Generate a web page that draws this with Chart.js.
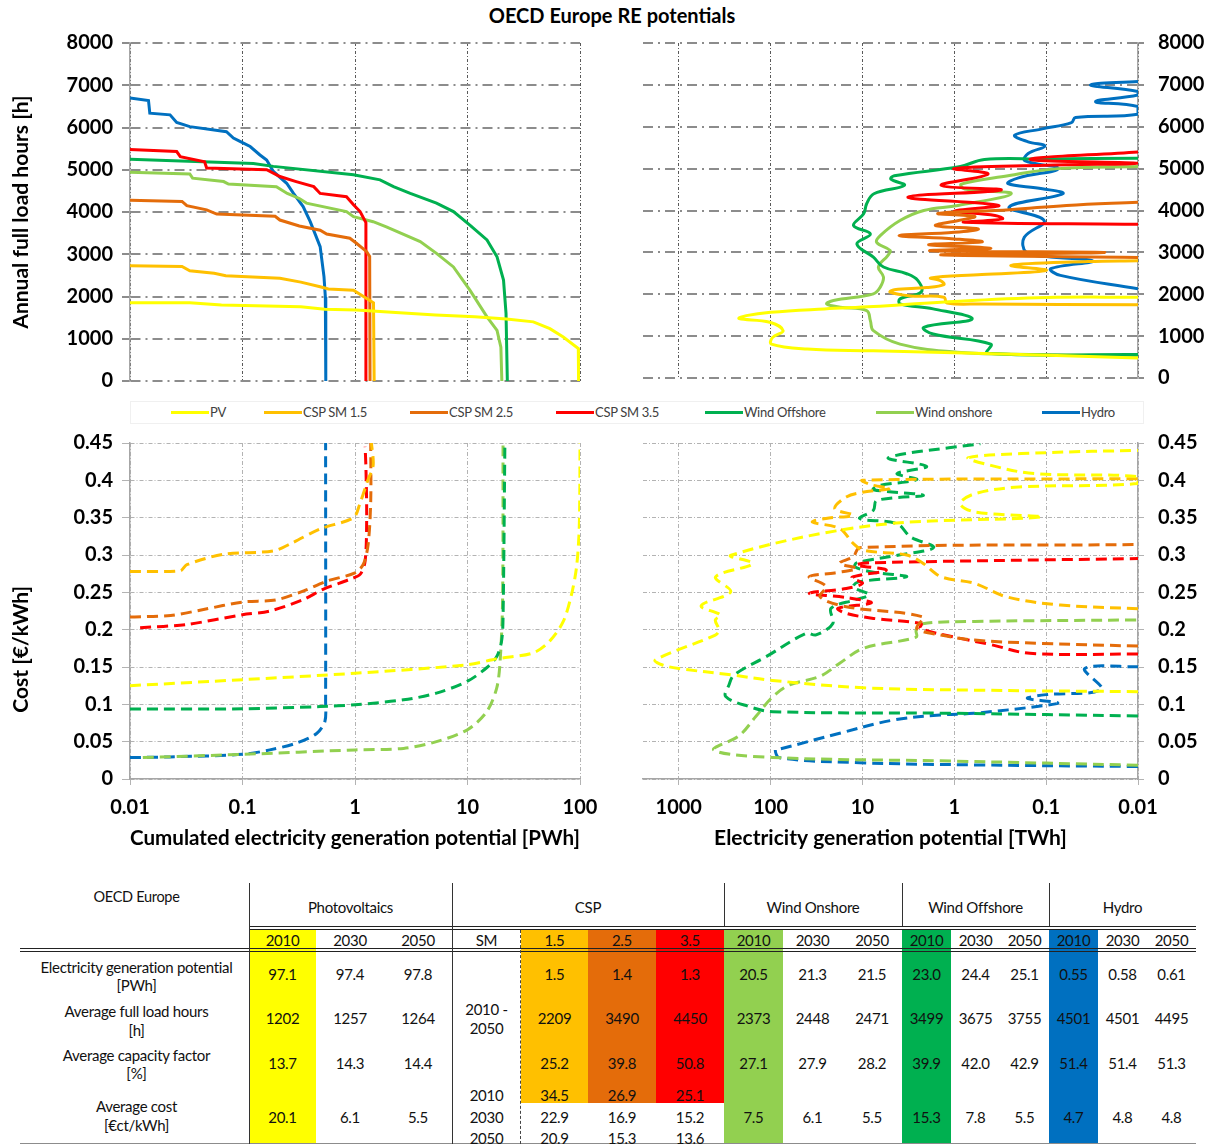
<!DOCTYPE html>
<html>
<head>
<meta charset="utf-8">
<title>OECD Europe RE potentials</title>
<script src="https://cdn.jsdelivr.net/npm/chart.js@4.4.1/dist/chart.umd.min.js"></script>
<style>
  body { margin: 0; background: #fff; font-family: Lato, "DejaVu Sans", sans-serif; }
  #page { position: relative; width: 1207px; height: 1144px; overflow: hidden; }
  canvas { position: absolute; }
  #title { position: absolute; left: 0; top: 3px; width: 1224px; text-align: center; font-weight: bold; font-size: 20px; }
  #legend { position: absolute; left: 130px; top: 401px; width: 1012px; height: 21px; border: 1px solid #f0f0f0; }
  .lg-line { position: absolute; height: 3px; top: 9px; }
  .lg-text { position: absolute; top: 2px; font-size: 13px; color: #404040; letter-spacing: -0.3px; white-space: nowrap; }
  .cell { position: absolute; text-align: center; font-size: 15px; line-height: 18px; height: 18px; white-space: nowrap; letter-spacing: -0.3px; color: #111; }
  .box { position: absolute; }
</style>
</head>
<body>
<div id="page">
  <div id="title">OECD Europe RE potentials</div>
  <canvas id="tl" width="600" height="400" style="left:0;top:0"></canvas>
  <canvas id="tr" width="587" height="400" style="left:620px;top:0"></canvas>
  <div id="legend"></div>
  <canvas id="bl" width="600" height="440" style="left:0;top:420px"></canvas>
  <canvas id="br" width="587" height="440" style="left:620px;top:420px"></canvas>
  <div id="table"></div>
</div>
<script>
// series shared by all four panels
const seriesNames = ['PV', 'CSP SM 1.5', 'CSP SM 2.5', 'CSP SM 3.5', 'Wind Offshore', 'Wind onshore', 'Hydro'];
const seriesColors = ['#ffff00', '#ffc000', '#e46c0a', '#ff0000', '#00b050', '#92d050', '#0070c0'];

// axis ticks
const hourTicks = [0, 1000, 2000, 3000, 4000, 5000, 6000, 7000, 8000];
const costTicks = [0, 0.05, 0.1, 0.15, 0.2, 0.25, 0.3, 0.35, 0.4, 0.45];
const cumulatedTicks = [0.01, 0.1, 1, 10, 100];
const potentialTicks = [0.01, 0.1, 1, 10, 100, 1000];

// full load hours [h] over cumulated potential [PWh]
const pvCumHours = [[0.01, 1850], [0.034, 1850], [0.065, 1800], [0.33, 1760], [0.54, 1700], [1.03, 1680], [2.3, 1620], [5.2, 1560], [11.6, 1520], [22.2, 1470], [38.5, 1400], [54, 1240], [71, 1040], [96.6, 770], [97.1, 700], [97.1, 0]];
const csp15CumHours = [[0.01, 2730], [0.029, 2710], [0.034, 2610], [0.056, 2550], [0.071, 2490], [0.215, 2430], [0.33, 2340], [0.49, 2230], [0.58, 2180], [0.97, 2150], [1.27, 1950], [1.46, 1850], [1.48, 0]];
const csp25CumHours = [[0.01, 4280], [0.029, 4250], [0.032, 4150], [0.048, 4050], [0.059, 3950], [0.195, 3900], [0.215, 3810], [0.32, 3670], [0.49, 3570], [0.56, 3480], [0.9, 3380], [1.03, 3260], [1.27, 3060], [1.35, 2950], [1.36, 0]];
const csp35CumHours = [[0.01, 5480], [0.026, 5430], [0.028, 5310], [0.046, 5190], [0.048, 5040], [0.164, 5000], [0.215, 4840], [0.3, 4720], [0.43, 4600], [0.49, 4440], [0.84, 4360], [0.97, 4170], [1.11, 4010], [1.25, 3750], [1.25, 0]];
const offshoreCumHours = [[0.01, 5250], [0.125, 5150], [0.188, 5080], [0.97, 4880], [1.67, 4760], [2.2, 4600], [3.1, 4440], [5.3, 4210], [7.5, 4010], [10.5, 3690], [14.9, 3340], [18.3, 2940], [20.9, 2390], [22, 1600], [22.6, 0]];
const onshoreCumHours = [[0.01, 4940], [0.034, 4900], [0.036, 4800], [0.068, 4720], [0.075, 4660], [0.2, 4600], [0.25, 4440], [0.32, 4320], [0.37, 4210], [0.84, 4010], [0.97, 3890], [1.45, 3770], [1.9, 3650], [3.8, 3300], [5.3, 3020], [7.5, 2700], [10.5, 2150], [14.9, 1520], [18.3, 1200], [19.8, 800], [20.2, 0]];
const hydroCumHours = [[0.01, 6700], [0.0146, 6640], [0.015, 6340], [0.0227, 6300], [0.026, 6120], [0.034, 6020], [0.072, 5900], [0.083, 5750], [0.095, 5670], [0.117, 5550], [0.143, 5350], [0.164, 5230], [0.188, 4960], [0.247, 4680], [0.284, 4440], [0.346, 4130], [0.4, 3770], [0.49, 3180], [0.53, 2470], [0.545, 1990], [0.55, 0]];

// full load hours [h] over potential per class [TWh]
const pvPotHours = [[0.01, 1930], [0.1, 1920], [1.4, 1810], [7.6, 1705], [26, 1650], [100, 1570], [184, 1490], [220, 1420], [102, 1330], [73, 1130], [95, 970], [98, 810], [40, 690], [7.6, 650], [0.6, 590], [0.01, 480]];
const csp15PotHours = [[0.01, 1750], [0.5, 1770], [1.2, 1790], [1.3, 1930], [3.0, 1960], [5.0, 2050], [4.5, 2110], [2.0, 2160], [1.3, 2230], [1.4, 2320], [1.8, 2390], [0.5, 2470], [0.1, 2570], [0.24, 2690], [0.035, 2780], [0.01, 2800]];
const csp25PotHours = [[0.01, 2880], [1.4, 2940], [0.023, 3000], [1.8, 3040], [0.4, 3100], [1.9, 3180], [0.5, 3250], [1.0, 3320], [4.0, 3400], [1.0, 3480], [0.55, 3560], [1.6, 3640], [0.9, 3760], [0.6, 3860], [1.5, 3930], [0.25, 4020], [0.06, 4120], [0.01, 4200]];
const csp35PotHours = [[0.01, 3670], [0.77, 3720], [0.3, 3800], [0.36, 3880], [1.0, 3990], [0.33, 4120], [3.2, 4320], [0.31, 4490], [1.39, 4600], [0.43, 4870], [1.0, 5000], [0.1, 5080], [0.01, 5130], [0.15, 5220], [0.01, 5400]];
const offshorePotHours = [[0.01, 560], [0.44, 590], [0.4, 810], [1.7, 1050], [2.15, 1210], [0.64, 1410], [1.7, 1650], [3.9, 1770], [3.9, 1890], [2.3, 2050], [2.5, 2330], [3.3, 2490], [5.9, 2650], [7.6, 2885], [11.5, 3200], [8.2, 3440], [12.5, 3640], [9.7, 3920], [9.0, 4160], [7.5, 4400], [3.5, 4600], [4.9, 4750], [4.5, 4830], [0.86, 5050], [0.47, 5220], [0.1, 5230], [0.01, 5250]];
const onshorePotHours = [[0.01, 535], [0.114, 560], [0.93, 615], [3.9, 810], [7.6, 1130], [8.2, 1370], [9.0, 1610], [17.5, 1690], [24.5, 1770], [20.7, 1850], [7.6, 2010], [6.4, 2170], [5.9, 2410], [6.7, 2650], [5.3, 2925], [5.0, 3045], [7.0, 3240], [6.4, 3400], [3.9, 3760], [2.15, 4000], [0.91, 4120], [0.24, 4400], [0.77, 4515], [0.84, 4630], [0.26, 4830], [0.074, 5000], [0.01, 5050]];
const hydroPotHours = [[0.01, 2130], [0.07, 2450], [0.089, 2610], [0.031, 2790], [0.1, 2900], [0.165, 3000], [0.173, 3360], [0.105, 3760], [0.253, 4080], [0.066, 4400], [0.11, 4520], [0.26, 4640], [0.2, 4780], [0.074, 5000], [0.171, 5190], [0.157, 5360], [0.103, 5540], [0.157, 5640], [0.22, 5800], [0.11, 5950], [0.053, 6100], [0.048, 6220], [0.01, 6300], [0.01, 6480], [0.029, 6600], [0.01, 6760], [0.01, 6840], [0.033, 7000], [0.01, 7080]];

// cost [EUR/kWh] over cumulated potential [PWh]
const pvCumCost = [[0.01, 0.125], [0.1, 0.133], [1, 0.1416], [10, 0.153], [18.2, 0.161], [38.5, 0.169], [54, 0.185], [71, 0.211], [84, 0.247], [93, 0.283], [98, 0.328], [99.5, 0.38], [100, 0.45]];
const csp15CumCost = [[0.01, 0.278], [0.028, 0.279], [0.032, 0.287], [0.068, 0.301], [0.188, 0.3055], [0.283, 0.317], [0.49, 0.335], [0.97, 0.35], [1.1, 0.368], [1.3, 0.4], [1.45, 0.42], [1.4, 0.45]];
const csp25CumCost = [[0.01, 0.217], [0.023, 0.219], [0.045, 0.227], [0.1, 0.237], [0.2, 0.24], [0.35, 0.252], [0.56, 0.265], [1.0, 0.276], [1.19, 0.288], [1.31, 0.315], [1.38, 0.373], [1.38, 0.45]];
const csp35CumCost = [[0.0123, 0.2025], [0.032, 0.207], [0.1, 0.22], [0.175, 0.225], [0.35, 0.2406], [0.52, 0.254], [0.9, 0.2675], [1.11, 0.274], [1.23, 0.292], [1.27, 0.35], [1.25, 0.418], [1.23, 0.445]];
const offshoreCumCost = [[0.01, 0.0936], [0.1, 0.094], [0.49, 0.097], [1.0, 0.0995], [2.7, 0.106], [5.3, 0.115], [10, 0.131], [14.8, 0.149], [18.2, 0.164], [20.1, 0.185], [20.7, 0.216], [21.5, 0.45]];
const onshoreCumCost = [[0.013, 0.0287], [0.1, 0.033], [1.0, 0.039], [2.7, 0.041], [5.3, 0.05], [10, 0.066], [14.8, 0.09], [18.2, 0.122], [19.5, 0.158], [20.5, 0.238], [20.7, 0.45]];
const hydroCumCost = [[0.01, 0.0287], [0.0227, 0.0296], [0.1, 0.033], [0.175, 0.039], [0.3, 0.048], [0.456, 0.061], [0.54, 0.077], [0.548, 0.104], [0.548, 0.45]];

// cost [EUR/kWh] over potential per class [TWh]
const pvPotCost = [[0.01, 0.117], [0.6, 0.119], [9.8, 0.1222], [95, 0.132], [260, 0.1393], [1000, 0.148], [1500, 0.1527], [1800, 0.1594], [400, 0.1928], [365, 0.1995], [400, 0.2129], [350, 0.2196], [570, 0.232], [272, 0.2507], [397, 0.2707], [157, 0.2885], [270, 0.2996], [7.6, 0.3397], [0.114, 0.3509], [0.6, 0.3577], [0.86, 0.369], [0.6, 0.382], [0.2, 0.391], [0.01, 0.3956], [0.01, 0.405], [0.135, 0.409], [0.4, 0.42], [0.7, 0.4304], [0.1, 0.437], [0.01, 0.4401]];
const csp15PotCost = [[0.01, 0.228], [0.07, 0.233], [0.27, 0.244], [0.6, 0.262], [1.4, 0.271], [2.2, 0.289], [3.3, 0.2999], [9.8, 0.3064], [12.6, 0.3155], [17.7, 0.3355], [35, 0.344], [25, 0.349], [12.6, 0.3534], [20, 0.362], [15, 0.3777], [10, 0.384], [5, 0.389], [8, 0.394], [10, 0.4001], [0.01, 0.4022]];
const csp25PotCost = [[0.01, 0.178], [0.11, 0.1816], [0.6, 0.186], [1.4, 0.1928], [2.56, 0.2017], [2.2, 0.217], [15, 0.2307], [29, 0.244], [25, 0.258], [38, 0.2707], [20, 0.276], [11.6, 0.282], [17.7, 0.289], [12.6, 0.2976], [10.7, 0.3098], [0.01, 0.314]];
const csp35PotCost = [[0.01, 0.1674], [0.15, 0.1683], [0.4, 0.18], [1.0, 0.19], [2.35, 0.2017], [2.3, 0.208], [7.6, 0.2151], [15, 0.2218], [18.5, 0.2285], [8, 0.236], [15, 0.243], [38, 0.2487], [15, 0.2552], [10, 0.262], [13, 0.27], [5.5, 0.2797], [11.6, 0.2864], [8.3, 0.2895], [0.01, 0.2953]];
const offshorePotCost = [[0.01, 0.0845], [1, 0.088], [95, 0.0902], [171, 0.097], [308, 0.1104], [284, 0.126], [250, 0.1393], [112, 0.1638], [41, 0.195], [32, 0.193], [21, 0.2084], [22, 0.2285], [12, 0.24], [8.5, 0.247], [12.6, 0.257], [11, 0.264], [3.3, 0.271], [7.6, 0.277], [12, 0.284], [11.6, 0.2895], [4, 0.3], [1.68, 0.31], [3.0, 0.3243], [4.2, 0.342], [10.7, 0.3488], [7.6, 0.36], [7.0, 0.373], [2.17, 0.38], [7.6, 0.3875], [6.5, 0.393], [2.56, 0.401], [4.2, 0.409], [2.0, 0.4187], [5.2, 0.4303], [0.52, 0.4491]];
const onshorePotCost = [[0.01, 0.0185], [1, 0.024], [95, 0.0289], [414, 0.0388], [220, 0.058], [145, 0.0836], [95, 0.11], [62, 0.126], [29, 0.1375], [17.7, 0.155], [9.8, 0.175], [2.6, 0.19], [2.6, 0.1996], [2.2, 0.208], [0.6, 0.211], [0.01, 0.213]];
const hydroPotCost = [[0.01, 0.0167], [0.61, 0.0189], [10.7, 0.0218], [80, 0.0285], [89, 0.039], [80, 0.04], [17.7, 0.0613], [4.6, 0.079], [1.42, 0.0858], [0.61, 0.088], [0.11, 0.098], [0.075, 0.102], [0.16, 0.108], [0.1, 0.113], [0.025, 0.12], [0.038, 0.148], [0.01, 0.1504]];

// summary table
const tableGroups = ['Photovoltaics', 'CSP', 'Wind Onshore', 'Wind Offshore', 'Hydro'];
const tableYears = ['2010', '2030', '2050'];
const cspMultiples = ['1.5', '2.5', '3.5'];
const rowLabels = [['Electricity generation potential', '[PWh]'], ['Average full load hours', '[h]'], ['Average capacity factor', '[%]'], ['Average cost', '[€ct/kWh]']];
const pvTable = [['97.1', '97.4', '97.8'], ['1202', '1257', '1264'], ['13.7', '14.3', '14.4'], ['20.1', '6.1', '5.5']];
const cspTable = [['1.5', '1.4', '1.3'], ['2209', '3490', '4450'], ['25.2', '39.8', '50.8']];
const cspCost = [['34.5', '26.9', '25.1'], ['22.9', '16.9', '15.2'], ['20.9', '15.3', '13.6']];
const onshoreTable = [['20.5', '21.3', '21.5'], ['2373', '2448', '2471'], ['27.1', '27.9', '28.2'], ['7.5', '6.1', '5.5']];
const offshoreTable = [['23.0', '24.4', '25.1'], ['3499', '3675', '3755'], ['39.9', '42.0', '42.9'], ['15.3', '7.8', '5.5']];
const hydroTable = [['0.55', '0.58', '0.61'], ['4501', '4501', '4495'], ['51.4', '51.4', '51.3'], ['4.7', '4.8', '4.8']];

const tickFont = { family: 'Lato, "DejaVu Sans", sans-serif', size: 20, weight: 'bold' };
const titleFont = { family: 'Lato, "DejaVu Sans", sans-serif', size: 21, weight: 'bold' };

function toPoints(pairs) {
  return pairs.map(p => ({ x: p[0], y: p[1] }));
}

function lineSets(groups, dashed, tension) {
  return groups.map((pairs, i) => ({
    label: seriesNames[i],
    data: toPoints(pairs),
    showLine: true,
    borderColor: seriesColors[i],
    backgroundColor: seriesColors[i],
    borderWidth: 3,
    borderDash: dashed ? [11, 6] : [],
    borderCapStyle: 'butt',
    pointRadius: 0,
    pointHoverRadius: 0,
    tension: tension,
    fill: false
  }));
}

function fixTicks(values) {
  return scale => { scale.ticks = values.map(v => ({ value: v })); };
}

// fixed axis box size; edge labels may overhang without shrinking the plot
function fixSize(prop, size) {
  return s => {
    s[prop] = size;
    s.paddingLeft = s.paddingRight = s.paddingTop = s.paddingBottom = 0;
  };
}

const tickLabel = v => String(v);

function topGridX(reverse, max, values) {
  return {
    type: 'logarithmic', reverse: reverse, min: 0.01, max: max,
    afterBuildTicks: fixTicks(values),
    ticks: { display: false },
    grid: { color: '#595959', lineWidth: 1, drawTicks: false },
    border: { display: false, dash: [3, 2, 1, 2] },
    afterFit: fixSize('height', 19)
  };
}

function hoursY(position, width, title) {
  return {
    position: position, min: 0, max: 8000,
    afterBuildTicks: fixTicks(hourTicks),
    ticks: { font: tickFont, color: '#000', padding: position === 'left' ? 9 : 14, callback: tickLabel },
    grid: { color: '#8c8c8c', lineWidth: 2, tickLength: position === 'left' ? 8 : 6 },
    border: { display: true, color: '#a6a6a6', width: 1.5, dash: [10, 5, 2, 5] },
    title: { display: !!title, text: title || '', font: titleFont, color: '#000', padding: { top: 9, bottom: 0 } },
    afterFit: fixSize('width', width)
  };
}

function bottomX(reverse, max, values, title) {
  return {
    type: 'logarithmic', reverse: reverse, min: 0.01, max: max,
    afterBuildTicks: fixTicks(values),
    ticks: { font: tickFont, color: '#000', padding: 11, autoSkip: false, maxRotation: 0, callback: tickLabel },
    grid: { color: '#b3b3b3', lineWidth: 1, tickLength: 6 },
    border: { display: true, color: '#a6a6a6', width: 1.5, dash: [4, 2, 1, 2] },
    title: { display: true, text: title, font: titleFont, color: '#000', padding: { top: 4, bottom: 9 } },
    afterFit: fixSize('height', 81)
  };
}

function costY(position, width, title) {
  return {
    position: position, min: 0, max: 0.45,
    afterBuildTicks: fixTicks(costTicks),
    ticks: { font: tickFont, color: '#000', padding: position === 'left' ? 9 : 14, callback: tickLabel },
    grid: { color: '#b3b3b3', lineWidth: 1, tickLength: position === 'left' ? 8 : 6 },
    border: { display: true, color: '#a6a6a6', width: 1.5, dash: [4, 2, 1, 2] },
    title: { display: !!title, text: title || '', font: titleFont, color: '#000', padding: { top: 9, bottom: 0 } },
    afterFit: fixSize('width', width)
  };
}

function panel(id, datasets, xScale, yScale, padding) {
  return new Chart(document.getElementById(id), {
    type: 'scatter',
    data: { datasets: datasets },
    options: {
      responsive: false,
      animation: false,
      events: [],
      layout: { padding: padding },
      plugins: { legend: { display: false }, tooltip: { enabled: false } },
      scales: { x: xScale, y: yScale }
    }
  });
}

panel('tl',
  lineSets([pvCumHours, csp15CumHours, csp25CumHours, csp35CumHours, offshoreCumHours, onshoreCumHours, hydroCumHours], false, 0),
  topGridX(false, 100, cumulatedTicks),
  hoursY('left', 130, 'Annual full load hours [h]'),
  { left: 0, right: 20, top: 43, bottom: 0 });

panel('tr',
  lineSets([pvPotHours, csp15PotHours, csp25PotHours, csp35PotHours, offshorePotHours, onshorePotHours, hydroPotHours], false, 0.4),
  topGridX(true, 2450, potentialTicks),
  hoursY('right', 69, null),
  { left: 23, right: 0, top: 43, bottom: 3 });

// padding after the cost title keeps it centred lower, next to the cost axis
panel('bl',
  lineSets([pvCumCost, csp15CumCost, csp25CumCost, csp35CumCost, offshoreCumCost, onshoreCumCost, hydroCumCost], true, 0.3),
  bottomX(false, 100, cumulatedTicks, 'Cumulated electricity generation potential [PWh]'),
  costY('left', 130, 'Cost [€/kWh]' + '\u00a0'.repeat(15)),
  { left: 0, right: 20, top: 23, bottom: 0 });

panel('br',
  lineSets([pvPotCost, csp15PotCost, csp25PotCost, csp35PotCost, offshorePotCost, onshorePotCost, hydroPotCost], true, 0.35),
  bottomX(true, 2450, potentialTicks, 'Electricity generation potential [TWh]'),
  costY('right', 69, null),
  { left: 23, right: 0, top: 23, bottom: 0 });

// shared legend between the two rows of panels
const legendLeft = [40, 133, 279, 425, 574, 745, 911];
const legend = document.getElementById('legend');
seriesNames.forEach((name, i) => {
  const line = document.createElement('div');
  line.className = 'lg-line';
  line.style.left = legendLeft[i] + 'px';
  line.style.width = '38px';
  line.style.background = seriesColors[i];
  legend.appendChild(line);
  const text = document.createElement('div');
  text.className = 'lg-text';
  text.style.left = (legendLeft[i] + 39) + 'px';
  text.textContent = name;
  legend.appendChild(text);
});

// table layout
const table = document.getElementById('table');
function box(x0, x1, y0, y1, css) {
  const d = document.createElement('div');
  d.className = 'box';
  d.style.left = x0 + 'px';
  d.style.top = y0 + 'px';
  d.style.width = (x1 - x0) + 'px';
  d.style.height = (y1 - y0) + 'px';
  Object.assign(d.style, css);
  table.appendChild(d);
}
function cell(text, x0, x1, yc, size) {
  const d = document.createElement('div');
  d.className = 'cell';
  d.style.left = x0 + 'px';
  d.style.width = (x1 - x0) + 'px';
  d.style.top = (yc - 9) + 'px';
  if (size) d.style.fontSize = size + 'px';
  d.textContent = text;
  table.appendChild(d);
}

const pvCols = [[249, 316], [316, 384], [384, 452]];
const smCol = [452, 521];
const cspCols = [[521, 588], [588, 656], [656, 724]];
const onCols = [[724, 783], [783, 842], [842, 902]];
const offCols = [[902, 951], [951, 1000], [1000, 1049]];
const hyCols = [[1049, 1098], [1098, 1147], [1147, 1196]];
const groupSpans = [[249, 452], [452, 724], [724, 902], [902, 1049], [1049, 1196]];
const yearRowY = 940;
const rowY = [974, 1018, 1063, 1117];
const labelY = [[967, 985], [1011, 1030], [1055, 1073], [1106, 1125]];
const cspCostY = [1095, 1117, 1138];

// coloured 2010 / solar multiple columns
box(pvCols[0][0], pvCols[0][1], 930, 1144, { background: seriesColors[0] });
cspCols.forEach((c, i) => box(c[0], c[1], 930, 1103, { background: seriesColors[1 + i] }));
box(onCols[0][0], onCols[0][1], 930, 1144, { background: seriesColors[5] });
box(offCols[0][0], offCols[0][1], 930, 1144, { background: seriesColors[4] });
box(hyCols[0][0], hyCols[0][1], 930, 1144, { background: seriesColors[6] });

// rules
box(249, 1196, 926, 927, { background: '#222' });
box(249, 1196, 929, 930, { background: '#222' });
box(20, 1196, 948, 949, { background: '#222' });
box(20, 1196, 951, 952, { background: '#222' });
box(20, 1196, 1143, 1144, { background: '#8c8c8c' });
[249, 452].forEach(x => box(x, x + 1, 883, 1144, { background: '#333' }));
[724, 902, 1049].forEach(x => box(x, x + 1, 883, 926, { background: '#333' }));
box(520, 521, 930, 1144, { borderLeft: '1px dashed #444', width: '0px' });

// headers
cell('OECD Europe', 24, 249, 897, 14.5);
tableGroups.forEach((g, i) => cell(g, groupSpans[i][0], groupSpans[i][1], 907));
[pvCols, onCols, offCols, hyCols].forEach(cols => cols.forEach((c, j) => cell(tableYears[j], c[0], c[1], yearRowY)));
cell('SM', smCol[0], smCol[1], yearRowY);
cspCols.forEach((c, j) => cell(cspMultiples[j], c[0], c[1], yearRowY));

// row labels
rowLabels.forEach((lines, r) => {
  cell(lines[0], 24, 249, labelY[r][0]);
  cell(lines[1], 24, 249, labelY[r][1]);
});

// values
[[pvCols, pvTable], [onCols, onshoreTable], [offCols, offshoreTable], [hyCols, hydroTable]].forEach(([cols, rows]) => {
  rows.forEach((vals, r) => vals.forEach((v, j) => cell(v, cols[j][0], cols[j][1], rowY[r])));
});
cspTable.forEach((vals, r) => vals.forEach((v, j) => cell(v, cspCols[j][0], cspCols[j][1], rowY[r])));
cspCost.forEach((vals, r) => {
  cell(tableYears[r], smCol[0], smCol[1], cspCostY[r]);
  vals.forEach((v, j) => cell(v, cspCols[j][0], cspCols[j][1], cspCostY[r]));
});
cell('2010 -', smCol[0], smCol[1], 1009);
cell('2050', smCol[0], smCol[1], 1028);
</script>
</body>
</html>
